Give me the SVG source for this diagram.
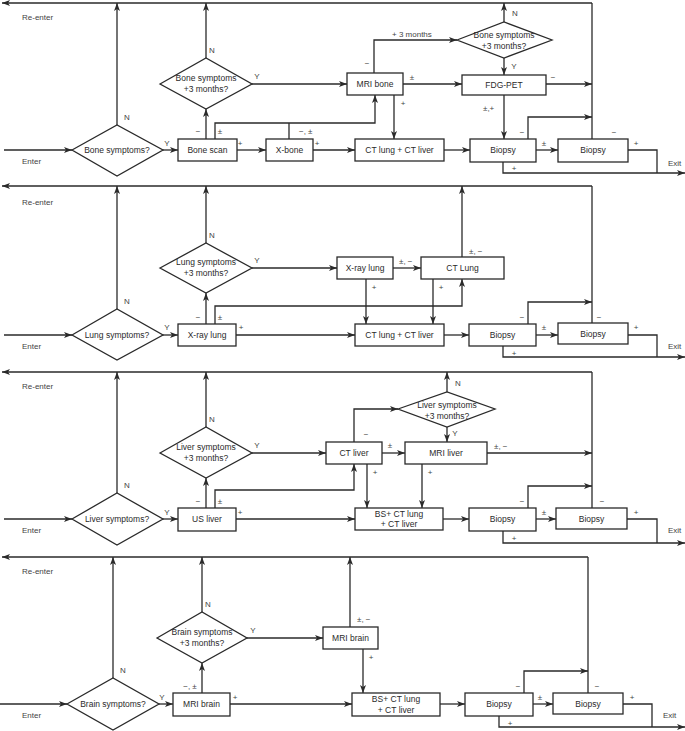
<svg xmlns="http://www.w3.org/2000/svg" width="685" height="731" viewBox="0 0 685 731">
<style>
.ln{fill:none;stroke:#2a2a2a;stroke-width:1.3}
.bx{fill:#fff;stroke:#2a2a2a;stroke-width:1.3}
.t{font-family:"Liberation Sans",Arial,sans-serif;font-size:8.5px;fill:#2a2a2a;text-anchor:middle}
.l{font-family:"Liberation Sans",Arial,sans-serif;font-size:8px;fill:#444}
.c{text-anchor:middle}
</style>
<defs>
<marker id="a" markerWidth="8" markerHeight="6" refX="8" refY="3" orient="auto" markerUnits="userSpaceOnUse"><path d="M0,0 L8,3 L0,6 L2,3 z" fill="#2a2a2a"/></marker>
</defs>
<rect width="685" height="731" fill="#fff"/>
<g id="connectors" class="ln" marker-end="url(#a)">
<!-- panel 1 -->
<path d="M592,3 H2"/>
<path d="M4,150 H72"/>
<path d="M117,125 V3"/>
<path d="M163,150 H178"/>
<path d="M206,139 V109"/>
<path d="M206,58 V3"/>
<path d="M215,139 V123 H375 V95"/>
<path d="M289,139 V123" marker-end="none"/>
<path d="M237,150 H266"/>
<path d="M313,150 H355"/>
<path d="M444,150 H470"/>
<path d="M252,84 H347"/>
<path d="M374,73 V40 H457"/>
<path d="M403,84 H462"/>
<path d="M394,95 V139"/>
<path d="M504,22 V3"/>
<path d="M504,58 V75"/>
<path d="M546,84 H592"/>
<path d="M504,95 V139"/>
<path d="M536,150 H558"/>
<path d="M528,139 V117 H592"/>
<path d="M592,139 V3" marker-end="none"/>
<path d="M628,150 H657 V173" marker-end="none"/>
<path d="M503,162 V173 H685"/>
<!-- panel 2 -->
<path d="M592,186 H2"/>
<path d="M4,335 H72"/>
<path d="M117,309 V186"/>
<path d="M163,335 H178"/>
<path d="M206,324 V293"/>
<path d="M206,243 V186"/>
<path d="M215,324 V306 H462 V279"/>
<path d="M236,335 H355"/>
<path d="M252,268 H337"/>
<path d="M393,268 H421"/>
<path d="M366,279 V324"/>
<path d="M433,279 V324"/>
<path d="M462,257 V186"/>
<path d="M444,335 H469"/>
<path d="M536,335 H558"/>
<path d="M528,324 V302 H592"/>
<path d="M592,323 V186" marker-end="none"/>
<path d="M628,335 H657 V357" marker-end="none"/>
<path d="M503,346 V357 H685"/>
<!-- panel 3 -->
<path d="M592,372 H2"/>
<path d="M4,519 H72"/>
<path d="M117,493 V372"/>
<path d="M163,519 H178"/>
<path d="M206,508 V478"/>
<path d="M206,427 V372"/>
<path d="M215,508 V490 H354 V464"/>
<path d="M236,519 H355"/>
<path d="M252,453 H326"/>
<path d="M354,442 V409 H398"/>
<path d="M382,453 H405"/>
<path d="M447,392 V372"/>
<path d="M447,427 V442"/>
<path d="M367,464 V508"/>
<path d="M422,464 V508"/>
<path d="M487,453 H592"/>
<path d="M443,519 H469"/>
<path d="M536,519 H556"/>
<path d="M528,508 V486 H592"/>
<path d="M592,508 V372" marker-end="none"/>
<path d="M627,519 H657 V543" marker-end="none"/>
<path d="M503,531 V543 H685"/>
<!-- panel 4 -->
<path d="M588,557 H2"/>
<path d="M0,704 H67"/>
<path d="M113,678 V557"/>
<path d="M159,704 H173"/>
<path d="M202,693 V663"/>
<path d="M202,612 V557"/>
<path d="M247,638 H323"/>
<path d="M350,627 V557"/>
<path d="M363,649 V693"/>
<path d="M230,704 H352"/>
<path d="M440,704 H465"/>
<path d="M533,704 H553"/>
<path d="M524,693 V671 H588"/>
<path d="M588,693 V557" marker-end="none"/>
<path d="M623,704 H652 V727" marker-end="none"/>
<path d="M499,716 V727 H685"/>
</g>
<!-- Panel 1 nodes -->
<g id="p1-bone-symptoms"><polygon class="bx" points="72,150 117,125 163,150 117,176"/><text class="t" x="117" y="153">Bone symptoms?</text></g>
<g id="p1-bone-scan"><rect class="bx" x="178" y="139" width="59" height="22"/><text class="t" x="207.5" y="153">Bone scan</text></g>
<g id="p1-bone-3m"><polygon class="bx" points="160,84 206,58 252,84 206,109"/><text class="t" x="206" y="81">Bone symptoms</text><text class="t" x="206" y="92">+3 months?</text></g>
<g id="p1-xbone"><rect class="bx" x="266" y="139" width="47" height="22"/><text class="t" x="289.5" y="153">X-bone</text></g>
<g id="p1-ct"><rect class="bx" x="355" y="139" width="89" height="22"/><text class="t" x="399.5" y="153">CT lung + CT liver</text></g>
<g id="p1-mri"><rect class="bx" x="347" y="73" width="56" height="22"/><text class="t" x="375" y="87">MRI bone</text></g>
<g id="p1-bone-3m-b"><polygon class="bx" points="457,40 504,22 552,40 504,58"/><text class="t" x="504" y="38">Bone symptoms</text><text class="t" x="504" y="49">+3 months?</text></g>
<g id="p1-fdg"><rect class="bx" x="462" y="75" width="84" height="20"/><text class="t" x="504" y="88">FDG-PET</text></g>
<g id="p1-biopsy1"><rect class="bx" x="470" y="139" width="66" height="23"/><text class="t" x="503" y="153">Biopsy</text></g>
<g id="p1-biopsy2"><rect class="bx" x="558" y="139" width="70" height="23"/><text class="t" x="593" y="153">Biopsy</text></g>
<!-- Panel 2 nodes -->
<g id="p2-lung-symptoms"><polygon class="bx" points="72,335 117,309 163,335 117,360"/><text class="t" x="117" y="338">Lung symptoms?</text></g>
<g id="p2-xray"><rect class="bx" x="178" y="324" width="58" height="22"/><text class="t" x="207" y="338">X-ray lung</text></g>
<g id="p2-lung-3m"><polygon class="bx" points="160,268 206,243 252,268 206,293"/><text class="t" x="206" y="265">Lung symptoms</text><text class="t" x="206" y="276">+3 months?</text></g>
<g id="p2-ct"><rect class="bx" x="355" y="324" width="89" height="22"/><text class="t" x="399.5" y="338">CT lung + CT liver</text></g>
<g id="p2-xray2"><rect class="bx" x="337" y="257" width="56" height="22"/><text class="t" x="365" y="271">X-ray lung</text></g>
<g id="p2-ctlung"><rect class="bx" x="421" y="257" width="83" height="22"/><text class="t" x="462.5" y="271">CT Lung</text></g>
<g id="p2-biopsy1"><rect class="bx" x="469" y="324" width="67" height="22"/><text class="t" x="502.5" y="338">Biopsy</text></g>
<g id="p2-biopsy2"><rect class="bx" x="558" y="323" width="70" height="21"/><text class="t" x="593" y="337">Biopsy</text></g>
<!-- Panel 3 nodes -->
<g id="p3-liver-symptoms"><polygon class="bx" points="72,519 117,493 163,519 117,545"/><text class="t" x="117" y="522">Liver symptoms?</text></g>
<g id="p3-us"><rect class="bx" x="178" y="508" width="58" height="23"/><text class="t" x="207" y="522">US liver</text></g>
<g id="p3-liver-3m"><polygon class="bx" points="160,453 206,427 252,453 206,478"/><text class="t" x="206" y="450">Liver symptoms</text><text class="t" x="206" y="461">+3 months?</text></g>
<g id="p3-bs"><rect class="bx" x="355" y="508" width="88" height="22"/><text class="t" x="399" y="517">BS+ CT lung</text><text class="t" x="399" y="527">+ CT liver</text></g>
<g id="p3-ctliver"><rect class="bx" x="326" y="442" width="56" height="22"/><text class="t" x="354" y="456">CT liver</text></g>
<g id="p3-mriliver"><rect class="bx" x="405" y="442" width="82" height="22"/><text class="t" x="446" y="456">MRI liver</text></g>
<g id="p3-liver-3m-b"><polygon class="bx" points="398,409 447,392 495,409 447,427"/><text class="t" x="447" y="408">Liver symptoms</text><text class="t" x="447" y="419">+3 months?</text></g>
<g id="p3-biopsy1"><rect class="bx" x="469" y="508" width="67" height="23"/><text class="t" x="502.5" y="522">Biopsy</text></g>
<g id="p3-biopsy2"><rect class="bx" x="556" y="508" width="71" height="21"/><text class="t" x="591.5" y="522">Biopsy</text></g>
<!-- Panel 4 nodes -->
<g id="p4-brain-symptoms"><polygon class="bx" points="67,704 113,678 159,704 113,730"/><text class="t" x="113" y="707">Brain symptoms?</text></g>
<g id="p4-mri"><rect class="bx" x="173" y="693" width="57" height="23"/><text class="t" x="201.5" y="707">MRI brain</text></g>
<g id="p4-brain-3m"><polygon class="bx" points="157,638 202,612 247,638 202,663"/><text class="t" x="202" y="635">Brain symptoms</text><text class="t" x="202" y="646">+3 months?</text></g>
<g id="p4-mri2"><rect class="bx" x="323" y="627" width="55" height="22"/><text class="t" x="350.5" y="641">MRI brain</text></g>
<g id="p4-bs"><rect class="bx" x="352" y="693" width="88" height="23"/><text class="t" x="396" y="702">BS+ CT lung</text><text class="t" x="396" y="713">+ CT liver</text></g>
<g id="p4-biopsy1"><rect class="bx" x="465" y="693" width="68" height="23"/><text class="t" x="499" y="707">Biopsy</text></g>
<g id="p4-biopsy2"><rect class="bx" x="553" y="693" width="70" height="21"/><text class="t" x="588" y="707">Biopsy</text></g>
<!-- Labels -->
<g id="labels" class="l">
<text x="22" y="20">Re-enter</text><text x="22" y="164">Enter</text><text x="668" y="166">Exit</text>
<text class="c" x="127" y="120">N</text><text class="c" x="167" y="146">Y</text>
<text class="c" x="198" y="134">−</text><text class="c" x="220" y="134">±</text>
<text class="c" x="212" y="53">N</text><text class="c" x="240" y="146">+</text>
<text x="299" y="134">−, ±</text><text class="c" x="317" y="146">+</text>
<text class="c" x="257" y="79">Y</text><text class="c" x="367" y="66">−</text>
<text x="392" y="37">+ 3 months</text><text class="c" x="412" y="80">±</text>
<text class="c" x="403" y="106">+</text><text class="c" x="515" y="16">N</text>
<text class="c" x="514" y="69">Y</text><text class="c" x="553" y="80">−</text>
<text x="483" y="111">±,+</text><text class="c" x="544" y="146">±</text>
<text class="c" x="522" y="135">−</text><text class="c" x="614" y="135">−</text>
<text class="c" x="636" y="146">+</text><text class="c" x="514" y="171">+</text>

<text x="22" y="205">Re-enter</text><text x="22" y="349">Enter</text><text x="668" y="349">Exit</text>
<text class="c" x="127" y="304">N</text><text class="c" x="167" y="330">Y</text>
<text class="c" x="198" y="320">−</text><text class="c" x="220" y="320">±</text>
<text class="c" x="212" y="238">N</text><text class="c" x="241" y="330">+</text>
<text class="c" x="257" y="263">Y</text><text x="399" y="264">±, −</text>
<text class="c" x="374" y="290">+</text><text class="c" x="441" y="290">+</text>
<text x="469" y="254">±, −</text><text class="c" x="544" y="330">±</text>
<text class="c" x="522" y="320">−</text><text class="c" x="599" y="320">−</text>
<text class="c" x="636" y="330">+</text><text class="c" x="514" y="356">+</text>

<text x="22" y="389">Re-enter</text><text x="22" y="533">Enter</text><text x="668" y="533">Exit</text>
<text class="c" x="127" y="488">N</text><text class="c" x="167" y="515">Y</text>
<text class="c" x="198" y="504">−</text><text class="c" x="220" y="504">±</text>
<text class="c" x="212" y="422">N</text><text class="c" x="240" y="515">+</text>
<text class="c" x="257" y="448">Y</text><text class="c" x="366" y="437">−</text>
<text class="c" x="390" y="448">±</text><text class="c" x="458" y="386">N</text>
<text class="c" x="455" y="436">Y</text><text class="c" x="375" y="475">+</text>
<text class="c" x="430" y="475">+</text><text x="494" y="449">±, −</text>
<text class="c" x="544" y="515">±</text><text class="c" x="522" y="504">−</text>
<text class="c" x="602" y="504">−</text><text class="c" x="636" y="515">+</text>
<text class="c" x="514" y="541">+</text>

<text x="22" y="574">Re-enter</text><text x="22" y="718">Enter</text><text x="663" y="718">Exit</text>
<text class="c" x="123" y="673">N</text><text class="c" x="162" y="700">Y</text>
<text class="c" x="190" y="689">−, ±</text><text class="c" x="208" y="607">N</text>
<text class="c" x="253" y="633">Y</text><text x="357" y="622">±, −</text>
<text class="c" x="371" y="660">+</text><text class="c" x="235" y="700">+</text>
<text class="c" x="540" y="700">±</text><text class="c" x="518" y="689">−</text>
<text class="c" x="597" y="689">−</text><text class="c" x="632" y="700">+</text>
<text class="c" x="510" y="726">+</text>
</g>
</svg>
